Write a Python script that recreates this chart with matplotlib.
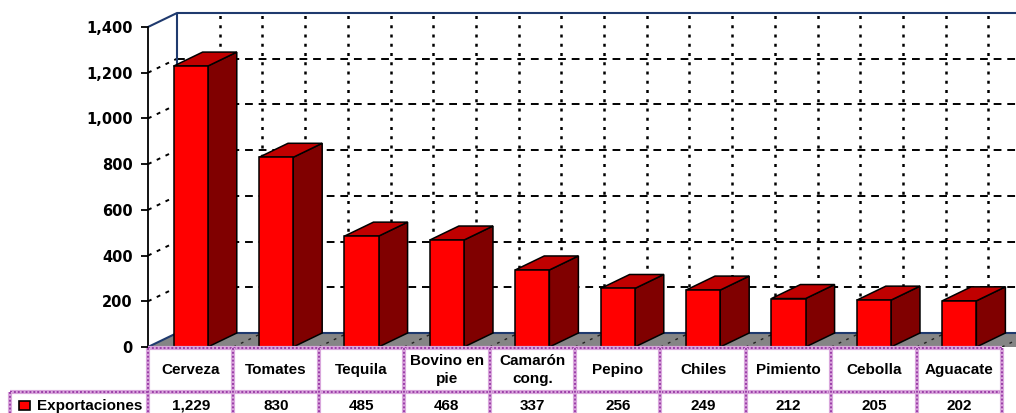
import matplotlib
matplotlib.use("Agg")
import matplotlib.pyplot as plt
from matplotlib.patches import Polygon, Rectangle
from matplotlib.transforms import blended_transform_factory

plt.rcParams['font.family'] = ['Liberation Sans', 'DejaVu Sans']
plt.rcParams['font.weight'] = 'bold'

# Exportaciones agroalimentarias (millones de dólares)
categories = ["Cerveza", "Tomates", "Tequila", "Bovino en\npie", "Camarón\ncong.",
              "Pepino", "Chiles", "Pimiento", "Cebolla", "Aguacate"]
values = [1229, 830, 485, 468, 337, 256, 249, 212, 205, 202]
series_name = "Exportaciones"
y_ticks = [0, 200, 400, 600, 800, 1000, 1200, 1400]

W, H = 1016, 413
fig = plt.figure(figsize=(W / 100, H / 100), dpi=100)
fig.patch.set_facecolor('white')

# plot area in pixels
left_px, right_px, top_px, bottom_px = 148, 1016, 13, 347
col_px = 85.4
ax = fig.add_axes([left_px / W, (H - bottom_px) / H,
                   (right_px - left_px) / W, (bottom_px - top_px) / H])
ax.patch.set_alpha(0)

ymax = 1400
px_per_unit = (347 - 27) / ymax
DX = 29 / col_px                 # depth offset, category units
DY = 14 / px_per_unit            # depth offset, value units
xmin = -0.5
xmax = xmin + (right_px - left_px) / col_px
ax.set_xlim(xmin, xmax)
ax.set_ylim(0, ymax + DY)

for s in ['top', 'right', 'bottom']:
    ax.spines[s].set_visible(False)
ax.spines['left'].set_bounds(0, ymax)
ax.spines['left'].set_linewidth(1.3)
ax.set_xticks([])
ax.set_yticks(y_ticks)
ax.set_yticklabels([f"{t:,}" for t in y_ticks], fontsize=10.5, fontweight='bold',
                   family='DejaVu Sans')
ax.tick_params(axis='y', direction='out', length=5, width=1.3, pad=6)

navy = '#1f3a6e'
# back-wall gridlines
for v in y_ticks[1:-1]:
    ax.plot([xmin + DX, xmax], [v + DY, v + DY], color='black', lw=1.4,
            ls=(0, (4, 3)), zorder=1, clip_on=False)
    ax.plot([xmin, xmin + DX], [v, v + DY], color='black', lw=1.4,
            ls=(0, (2, 3)), zorder=1, clip_on=False)
k = 1
while xmin + DX + 0.5 * k < xmax:
    x = xmin + DX + 0.5 * k
    ax.plot([x, x], [DY, ymax + DY], color='black', lw=1.8,
            ls=(0, (1.2, 2.5)), zorder=1)
    k += 1

# wall outline
ax.plot([xmin, xmin + DX, xmax], [ymax, ymax + DY, ymax + DY], color=navy,
        lw=1.5, zorder=2, clip_on=False)
ax.plot([xmin + DX, xmin + DX], [ymax + DY, DY], color=navy, lw=1.5, zorder=2)

# floor
floor = Polygon([(xmin, 0), (xmax + 1, 0), (xmax + 1 + DX, DY), (xmin + DX, DY)],
                closed=True, facecolor='#858585', edgecolor='none', zorder=3)
ax.add_patch(floor)
ax.plot([xmin, xmin + DX, xmax], [0, DY, DY], color=navy, lw=1.5, zorder=4)
for j in range(1, 21):
    x = xmin + 0.5 * j
    ax.plot([x, x + DX], [0, DY], color='#222222', lw=1, ls=(0, (2, 4)), zorder=4)

# 3D columns
bw = 0.4
for i, v in enumerate(values):
    x0, x1 = i - bw / 2, i + bw / 2
    side = Polygon([(x1, 0), (x1 + DX, DY), (x1 + DX, v + DY), (x1, v)],
                   closed=True, facecolor='#800000', edgecolor='black', lw=1.1, zorder=5)
    top = Polygon([(x0, v), (x1, v), (x1 + DX, v + DY), (x0 + DX, v + DY)],
                  closed=True, facecolor='#c00000', edgecolor='black', lw=1.1, zorder=5)
    front = Rectangle((x0, 0), bw, v, facecolor='#ff0000', edgecolor='black',
                      lw=1.1, zorder=6)
    for p in (side, top, front):
        ax.add_patch(p)

# data table below the plot
tr = blended_transform_factory(ax.transData, fig.transFigure)


def fy(py):
    return (H - py) / H


border_kw = dict(color='#d9a6dc', lw=3, solid_capstyle='butt', clip_on=False)
dot_kw = dict(color='#9b3fa8', lw=1.4, ls=(0, (1, 1)), clip_on=False)


def tline(xs, ys, transform):
    fig.add_artist(plt.Line2D(xs, ys, transform=transform, **border_kw))
    fig.add_artist(plt.Line2D(xs, ys, transform=transform, **dot_kw))


row_top, row_mid, row_bot = 348, 392, 416
n = len(categories)
tline([-0.5, n - 0.5], [fy(row_top), fy(row_top)], tr)
tline([-0.5, n - 0.5], [fy(row_mid), fy(row_mid)], tr)
for e in range(n + 1):
    tline([e - 0.5, e - 0.5], [fy(row_top), fy(row_bot)], tr)
# legend cell
tline([10 / W, left_px / W], [fy(row_mid), fy(row_mid)], fig.transFigure)
tline([10 / W, 10 / W], [fy(row_mid), fy(row_bot)], fig.transFigure)

for i, (c, v) in enumerate(zip(categories, values)):
    fig.text(i, fy(370), c, transform=tr, ha='center', va='center',
             fontsize=11, fontweight='bold', linespacing=1.45)
    fig.text(i, fy(406), f"{v:,}", transform=tr, ha='center', va='center',
             fontsize=11, fontweight='bold')

fig.add_artist(Rectangle((19 / W, fy(410)), 11 / W, 9 / H, transform=fig.transFigure,
                         facecolor='#ff0000', edgecolor='black', lw=1.2))
fig.text(37 / W, fy(406), series_name, ha='left', va='center',
         fontsize=11, fontweight='bold')

fig.savefig('out.png', dpi=100, facecolor='white')
